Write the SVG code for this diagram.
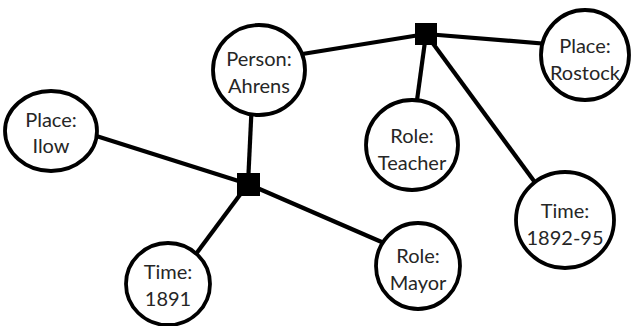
<svg xmlns="http://www.w3.org/2000/svg" width="631" height="326" viewBox="0 0 631 326">
  <style>
    .edge { stroke: #000; stroke-width: 4.2; stroke-linecap: butt; fill: none; }
    .node ellipse { fill: #fff; stroke: #000; stroke-width: 3.8; }
    .node text { font-family: Lato, "Noto Sans", sans-serif; font-size: 20px; fill: #262626; text-anchor: middle; }
    .hub { fill: #000; }
  </style>
  <rect width="631" height="326" fill="#fff"/>

  <!-- connectors -->
  <g id="connectors">
    <line class="edge" x1="90" y1="134" x2="248" y2="184"/>
    <line class="edge" x1="252" y1="100" x2="248" y2="184"/>
    <line class="edge" x1="248" y1="184" x2="190" y2="262"/>
    <line class="edge" x1="248" y1="184" x2="400" y2="250"/>
    <line class="edge" x1="290" y1="56" x2="426" y2="34"/>
    <line class="edge" x1="426" y1="34" x2="560" y2="45"/>
    <line class="edge" x1="426" y1="34" x2="415" y2="115"/>
    <line class="edge" x1="426" y1="34" x2="545" y2="196"/>
  </g>

  <!-- hubs -->
  <g id="hub-top"><rect class="hub" x="415" y="23" width="22" height="22"/></g>
  <g id="hub-bottom"><rect class="hub" x="237" y="173" width="23" height="23"/></g>

  <!-- nodes -->
  <g id="place-ilow" class="node">
    <ellipse cx="51" cy="131" rx="46" ry="40"/>
    <text x="51" y="127">Place:</text>
    <text x="51" y="153">Ilow</text>
  </g>
  <g id="person-ahrens" class="node">
    <ellipse cx="259" cy="70" rx="46" ry="45"/>
    <text x="259" y="66">Person:</text>
    <text x="259" y="93">Ahrens</text>
  </g>
  <g id="place-rostock" class="node">
    <ellipse cx="585" cy="55" rx="44" ry="45"/>
    <text x="585" y="53">Place:</text>
    <text x="585" y="80">Rostock</text>
  </g>
  <g id="role-teacher" class="node">
    <ellipse cx="412" cy="145" rx="46" ry="45"/>
    <text x="412" y="143">Role:</text>
    <text x="412" y="170">Teacher</text>
  </g>
  <g id="time-1891" class="node">
    <ellipse cx="168" cy="284" rx="42" ry="41"/>
    <text x="168" y="279">Time:</text>
    <text x="168" y="306">1891</text>
  </g>
  <g id="role-mayor" class="node">
    <ellipse cx="418" cy="266" rx="42" ry="43"/>
    <text x="418" y="263">Role:</text>
    <text x="418" y="290">Mayor</text>
  </g>
  <g id="time-1892-95" class="node">
    <ellipse cx="565" cy="220" rx="49" ry="48"/>
    <text x="565" y="218">Time:</text>
    <text x="565" y="245">1892-95</text>
  </g>
</svg>
